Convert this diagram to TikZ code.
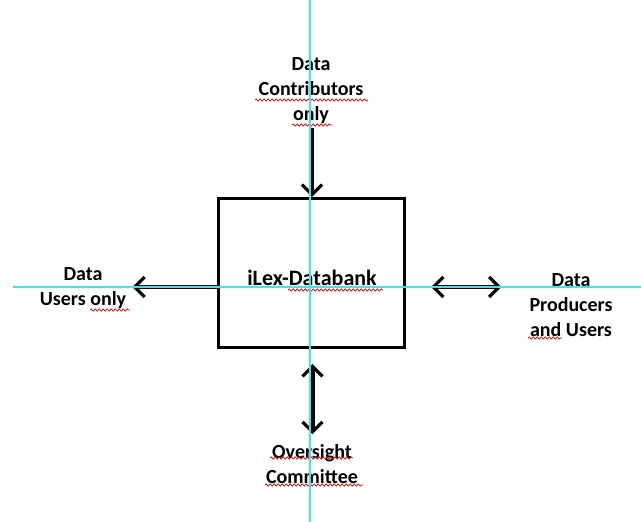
\documentclass[tikz,border=0pt]{standalone}
\usepackage{fontspec}
\setmainfont{Carlito}
\usetikzlibrary{arrows.meta,decorations.pathmorphing,calc}
\definecolor{guide}{RGB}{60,230,235}
\begin{document}
\begin{tikzpicture}[x=1bp,y=-1bp,
  lbl/.style={font=\bfseries\fontsize{20bp}{25bp}\selectfont, align=center, inner sep=0pt},
  mytip/.tip={Straight Barb[length=10bp,width=20bp,line width=3.2bp]},
  conn/.style={line width=4bp, -{mytip}},
  dconn/.style={line width=4bp, {mytip}-{mytip}},
  spell/.style={red!85!black, line width=0.7bp, decorate, decoration={snake, amplitude=1.2bp, segment length=4bp}},
  guideline/.style={guide, line width=1.1bp}
]
\useasboundingbox (0,0) rectangle (641,522);
% central box
\node[draw, line width=3.2bp, minimum width=186bp, minimum height=149bp, inner sep=0pt] (box) at (311.5,273) {};
\node[lbl, font=\bfseries\fontsize{22bp}{25bp}\selectfont] (boxtext) at (312,278) {iLex-Databank};
% labels
\node[lbl] (top) at (311,91) {Data\\Contributors\\only};
\node[lbl] (left) at (83,288) {Data\\Users only};
\node[lbl] (right) at (571,305) {Data\\Producers\\and Users};
\node[lbl] (bottom) at (312,464) {Oversight\\Committee};
% connectors
\draw[conn] ($(top.south)+(1,4)$) coordinate (ts) -- (box.north -| ts);
\draw[conn, shorten >=6bp] (box.west |- 0,287) coordinate (lw) -- (lw -| left.east);
\draw[dconn, shorten <=25bp, shorten >=28bp] (box.east |- 0,287) coordinate (re) -- (re -| right.west);
\draw[dconn, shorten <=15bp, shorten >=10bp] ($(box.south)+(1,0)$) coordinate (bs) -- (bs |- bottom.north);
% spell-check underlines
\draw[spell] (255,100) -- (368,100);
\draw[spell] (292,125) -- (332,125);
\draw[spell] (90,310) -- (130,310);
\draw[spell] (528,338) -- (562,338);
\draw[spell] (288,290) -- (383,290);
\draw[spell] (270,458) -- (353,458);
\draw[spell] (265,485) -- (363,485);
% guide lines
\draw[guideline] (310,0) -- (310,522);
\draw[guideline] (13,287) -- (641,287);
\end{tikzpicture}
\end{document}
